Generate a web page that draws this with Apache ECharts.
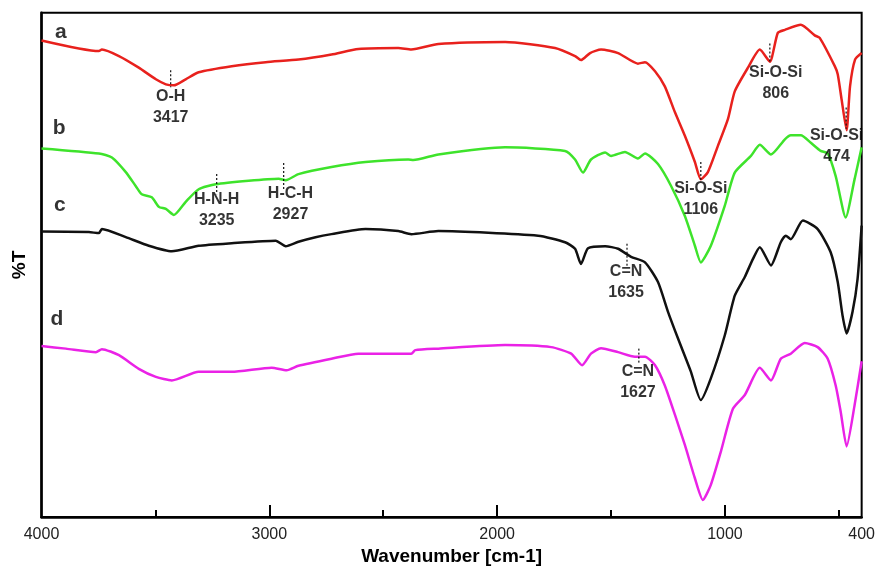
<!DOCTYPE html>
<html><head><meta charset="utf-8">
<script src="https://cdn.jsdelivr.net/npm/echarts@6/dist/echarts.min.js"></script>
<style>html,body{margin:0;padding:0;background:#fff}#c{width:878px;height:571px}</style>
</head><body><div id="c"></div>
<script>
// ---- data (wavenumber in cm-1, %T in arbitrary offset units) ----
const aWave = [4000,3748,3735,3660,3573,3498,3454,3419,3367,3310,3165,3016,2872,2727,2609,2434,2377,2258,1965,1746,1658,1632,1592,1544,1469,1382,1351,1307,1264,1219,1176,1132,1106,1075,1031,987,957,899,847,803,768,737,667,606,584,518,505,488,466,451,429,400];
const aT    = [94.5,92.4,92.7,91.4,89.1,86.8,85.8,85.6,86.8,88.2,89.4,90.2,90.7,91.7,92.8,93.0,92.7,93.8,94.2,93.0,91.4,90.6,92.0,92.7,92.0,89.9,90.2,88.4,85.4,80.2,75.6,70.4,67.0,68.4,73.6,78.9,84.4,89.1,92.7,90.3,96.0,96.6,97.6,95.5,95.0,89.4,87.8,82.8,76.7,85.4,90.7,92.0];

const bWave = [4000,3748,3691,3630,3586,3560,3516,3485,3454,3419,3367,3310,3235,3091,2959,2928,2872,2727,2578,2390,2368,2258,1965,1702,1658,1623,1588,1526,1500,1439,1382,1351,1294,1237,1176,1132,1106,1062,1001,957,886,847,798,737,711,667,623,580,549,514,470,431,400];
const bT    = [73.1,72.1,71.3,68.4,65.6,64.0,63.4,61.5,61.1,59.9,62.5,65.0,66.0,66.7,67.1,66.8,68.0,69.4,70.4,70.9,70.8,71.9,73.3,72.6,70.9,68.3,70.9,72.3,71.6,72.4,71.1,72.1,70.0,65.7,59.7,53.8,50.5,53.8,61.7,68.3,71.6,73.8,71.9,74.9,75.7,75.7,74.2,72.6,72.1,67.6,59.4,67.0,73.3];

const cWave = [4000,3792,3748,3735,3630,3529,3428,3310,3165,2972,2928,2872,2797,2727,2578,2434,2377,2258,1820,1702,1658,1632,1601,1526,1469,1412,1351,1294,1250,1206,1150,1106,1062,1001,957,913,877,847,798,755,733,711,658,593,536,505,484,466,440,418,400];
const cT    = [56.6,56.5,56.3,57.1,55.5,53.8,52.7,53.8,54.3,54.8,53.7,54.6,55.5,56.1,57.1,56.7,56.1,56.7,55.8,54.5,53.2,50.2,53.3,53.7,53.2,51.6,50.5,46.6,40.7,35.4,28.9,23.2,27.5,36.0,43.9,47.6,51.2,53.5,49.9,54.5,55.8,55.1,58.8,57.1,52.5,46.6,40.0,36.4,40.7,47.2,57.8];

const dWave = [4000,3893,3761,3735,3660,3573,3498,3428,3310,3165,2990,2924,2872,2727,2609,2377,2359,2258,1965,1763,1675,1627,1588,1544,1469,1395,1351,1307,1264,1219,1176,1132,1097,1062,1018,965,913,847,798,755,711,650,593,549,514,492,466,431,400];
const dT    = [33.9,33.4,32.7,33.3,32.1,29.4,27.8,27.1,28.8,28.8,29.6,29.1,30.0,31.4,32.4,32.4,33.1,33.4,34.1,33.7,32.4,30.1,32.4,33.5,32.7,31.8,31.8,30.1,26.1,20.2,14.3,7.7,3.4,6.4,13.0,21.5,24.2,29.6,27.1,31.4,32.4,34.5,33.7,31.4,26.1,20.9,14.0,22.2,30.9];

const seriesNames = ['a','b','c','d'];
const seriesColors = ['#e8211d','#3ee32b','#111111','#ea22e6'];
const letterWave = [3915,3923,3919,3932];
const letterT = [96.2,77.1,61.9,39.3];

// peak annotations
const annName = ['O-H','H-N-H','H-C-H','Si-O-Si','Si-O-Si','Si-O-Si','C=N','C=N'];
const annNum  = ['3417','3235','2927','806','474','1106','1635','1627'];
const annWave = [3433,3231,2907,777,510,1106,1434,1382];
const annT    = [81.2,60.9,62.1,86.1,73.6,63.0,46.5,26.8];
const markWave   = [3433,3231,2937,803,468,1106,1430,1378];
const markTop    = [88.6,68.0,70.2,93.9,81.2,70.4,54.2,33.4];
const markBottom = [85.2,64.0,65.0,90.1,77.0,66.4,49.6,30.4];

// axis tick values
const xLabels = [4000,3000,2000,1000,400];
const majorTicks = [3000,2000,1000];
const minorTicks = [3500,2500,1500,500];

const FONT = 'Liberation Sans, Arial, sans-serif';
const zip = (xs, ys) => xs.map((x, i) => [x, ys[i]]);
const curves = [zip(aWave,aT), zip(bWave,bT), zip(cWave,cT), zip(dWave,dT)];

const series = [];
curves.forEach((d, i) => {
  series.push({
    type: 'line', name: seriesNames[i], data: d, showSymbol: false, symbol: 'none',
    smooth: 0.2, lineStyle: {color: seriesColors[i], width: 2.5}, z: 3
  });
});
markWave.forEach((w, i) => {
  series.push({
    type: 'line', data: [[w, markTop[i]], [w, markBottom[i]]], symbol: 'none',
    lineStyle: {color: '#111', width: 1.2, type: [2, 2]}, z: 4
  });
});
series.push({
  type: 'scatter', symbolSize: 0, z: 5,
  data: annWave.map((w, i) => ({value: [w, annT[i]], name: annName[i] + '\n' + annNum[i]})),
  label: {show: true, position: 'inside', formatter: '{b}', color: '#000',
    fontFamily: FONT, fontWeight: 'bold', fontSize: 16, lineHeight: 21, align: 'center', verticalAlign: 'middle'}
});
series.push({
  type: 'scatter', symbolSize: 0, z: 5,
  data: letterWave.map((w, i) => ({value: [w, letterT[i]], name: seriesNames[i]})),
  label: {show: true, position: 'inside', formatter: '{b}', color: '#000',
    fontFamily: FONT, fontWeight: 'bold', fontSize: 21, align: 'center', verticalAlign: 'middle'}
});

const chart = echarts.init(document.getElementById('c'), null, {renderer: 'canvas'});
chart.setOption({
  animation: false,
  backgroundColor: '#fff',
  grid: {left: 41.5, right: 14, top: 12.7, bottom: 51, show: true, borderColor: '#000', borderWidth: 2, containLabel: false},
  xAxis: [{
    type: 'value', min: 400, max: 4000, inverse: true, position: 'bottom',
    name: 'Wavenumber [cm-1]', nameLocation: 'middle', nameGap: 28,
    nameTextStyle: {fontFamily: FONT, fontWeight: 'bold', fontSize: 19, color: '#000'},
    axisLine: {show: true, onZero: false, lineStyle: {color: '#000', width: 2.5}},
    axisTick: {show: true, inside: true, length: 12, customValues: majorTicks, lineStyle: {color: '#000', width: 2}},
    axisLabel: {show: true, customValues: xLabels, margin: 9, fontFamily: FONT, fontSize: 16, color: '#222',
      showMinLabel: true, showMaxLabel: true, formatter: v => String(v)},
    splitLine: {show: false}
  }, {
    type: 'value', min: 400, max: 4000, inverse: true, position: 'bottom', offset: 0,
    axisLine: {show: false},
    axisTick: {show: true, inside: true, length: 7, customValues: minorTicks, lineStyle: {color: '#000', width: 2}},
    axisLabel: {show: false},
    splitLine: {show: false}
  }],
  yAxis: {
    type: 'value', min: 0, max: 100,
    name: '%T', nameLocation: 'middle', nameGap: 12, nameRotate: 90,
    nameTextStyle: {fontFamily: FONT, fontWeight: 'bold', fontSize: 19, color: '#000'},
    axisLine: {show: true, lineStyle: {color: '#000', width: 2.5}},
    axisTick: {show: false}, axisLabel: {show: false}, splitLine: {show: false}
  },
  series: series
});
</script></body></html>
